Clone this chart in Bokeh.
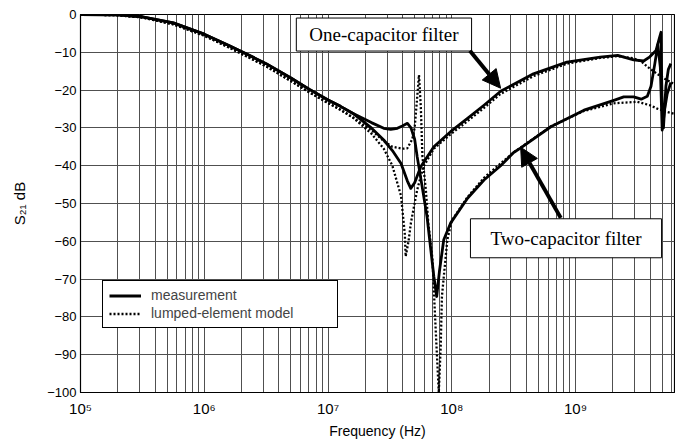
from bokeh.plotting import figure
from bokeh.models import (FixedTicker, Label, Arrow, NormalHead, Legend, LegendItem, Range1d)
from bokeh.embed import file_html
from bokeh.resources import INLINE

# ---------------- data ----------------
# One-capacitor filter, measurement
meas1_f = [1e5, 2e5, 3.16e5, 5.62e5, 1e6, 1.58e6, 2.24e6, 3.16e6, 5.01e6, 7.08e6, 1e7, 1.26e7,
           1.58e7, 2.24e7, 2.82e7, 3.31e7, 3.89e7, 4.37e7, 4.66e7, 5.01e7, 5.61e7, 7.16e7, 9.77e7,
           1.34e8, 1.82e8, 2.48e8, 4.57e8, 8.51e8, 1.58e9, 2.19e9, 2.95e9, 3.55e9, 3.98e9, 4.47e9,
           4.73e9, 4.90e9, 4.95e9, 5.01e9, 5.13e9, 5.37e9, 5.62e9, 5.89e9]
meas1_db = [0, -0.1, -0.6, -2.2, -5.2, -8.2, -10.6, -13.0, -16.8, -19.8, -22.6, -24.3,
            -26.1, -30.0, -33.2, -36.0, -39.4, -44.0, -46.0, -44.5, -40.3, -35.0, -31.0,
            -27.5, -24.0, -20.3, -15.7, -12.6, -11.3, -10.8, -12.0, -12.3, -11.2, -9.5,
            -6.5, -4.7, -15.0, -25.0, -30.0, -19.0, -14.5, -13.0]

# Two-capacitor filter, measurement
meas2_f = [1e5, 2e5, 3.16e5, 5.62e5, 1e6, 1.58e6, 2.24e6, 3.16e6, 5.01e6, 7.08e6, 1e7, 1.26e7,
           1.58e7, 2.24e7, 2.82e7, 3.21e7, 3.63e7, 3.98e7, 4.38e7, 4.68e7, 5.01e7, 5.25e7, 5.50e7,
           6.31e7, 7.16e7, 7.55e7, 7.94e7, 8.61e7, 9.77e7, 1.34e8, 1.82e8, 2.48e8, 3.16e8, 3.61e8,
           6.31e8, 1.17e9, 2.04e9, 2.45e9, 2.95e9, 3.39e9, 3.80e9, 4.07e9, 4.37e9, 4.62e9, 4.84e9,
           5.01e9, 5.25e9, 5.50e9, 5.89e9]
meas2_db = [0, -0.1, -0.6, -2.2, -5.2, -8.2, -10.6, -13.0, -16.8, -19.8, -22.6, -24.3,
            -26.1, -28.6, -30.1, -30.4, -30.1, -29.5, -28.8, -30.0, -33.0, -37.6, -41.5,
            -53.5, -69.3, -74.6, -68.0, -59.6, -55.2, -48.6, -43.8, -40.0, -36.5, -35.3,
            -29.7, -25.3, -22.7, -21.8, -21.8, -22.4, -21.6, -19.0, -13.0, -8.0, -14.0,
            -30.6, -25.0, -21.0, -18.0]

# One-capacitor filter, lumped-element model
mod1_f = [1e5, 2e5, 3.16e5, 5.62e5, 1e6, 1.58e6, 2.24e6, 3.16e6, 5.01e6, 7.08e6, 1e7, 1.26e7,
          1.58e7, 2.24e7, 2.82e7, 3.31e7, 3.89e7, 4.17e7, 4.24e7, 4.47e7, 4.68e7, 5.25e7, 5.89e7,
          7.16e7, 9.77e7, 1.34e8, 1.82e8, 2.48e8, 4.57e8, 8.51e8, 1.58e9, 2.19e9, 2.95e9, 3.39e9,
          3.80e9, 4.47e9, 5.25e9, 6.31e9]
mod1_db = [0, -0.2, -0.8, -2.6, -5.6, -8.7, -11.2, -13.7, -17.6, -20.6, -23.4, -25.2,
           -27.2, -31.5, -35.5, -40.0, -48.0, -58.0, -64.0, -60.0, -55.0, -46.4, -40.3,
           -35.5, -31.7, -28.2, -24.7, -21.0, -16.3, -13.0, -11.5, -11.0, -11.6, -12.4,
           -13.8, -15.5, -17.0, -18.5]

# Two-capacitor filter, lumped-element model
mod2_f = [1e5, 2e5, 3.16e5, 5.62e5, 1e6, 1.58e6, 2.24e6, 3.16e6, 5.01e6, 7.08e6, 1e7, 1.26e7,
          1.58e7, 2.24e7, 2.82e7, 3.31e7, 3.98e7, 4.37e7, 4.79e7, 5.01e7, 5.25e7, 5.43e7, 5.62e7,
          5.79e7, 6.17e7, 6.46e7, 6.97e7, 7.41e7, 7.85e7, 8.13e7, 8.32e7, 9.2e7, 1e8, 1.34e8,
          1.82e8, 2.48e8, 3.16e8, 6.31e8, 1.17e9, 2.04e9, 3.16e9, 3.98e9, 4.57e9, 5.50e9, 6.31e9]
mod2_db = [0, -0.2, -0.8, -2.6, -5.6, -8.7, -11.2, -13.7, -17.6, -20.6, -23.4, -25.2,
           -27.2, -30.6, -33.5, -35.0, -35.5, -35.4, -33.0, -30.0, -22.0, -16.0, -24.5,
           -37.6, -46.4, -55.2, -64.5, -83.4, -100.0, -88.0, -74.6, -59.6, -54.5, -48.3,
           -43.2, -39.4, -36.5, -29.6, -25.5, -23.5, -23.1, -24.0, -24.9, -25.8, -26.3]

decades = [1e5, 1e6, 1e7, 1e8, 1e9]
decade_labels = ["10\u2075", "10\u2076", "10\u2077", "10\u2078", "10\u2079"]
y_ticks = [-100, -90, -80, -70, -60, -50, -40, -30, -20, -10, 0]
legend_labels = ["measurement", "lumped-element model"]
note1 = "One-capacitor filter"
note2 = "Two-capacitor filter"

# ---------------- figure ----------------
p = figure(width=675, height=441, x_axis_type="log",
           x_range=Range1d(1e5, 6.3e9), y_range=Range1d(-100, 0),
           output_backend="svg", toolbar_location=None,
           min_border_left=80, min_border_right=1, min_border_top=14, min_border_bottom=48,
           background_fill_color="white", border_fill_color="white")

minors = [m * d for d in decades for m in range(2, 10)]
xt = FixedTicker(ticks=decades, minor_ticks=minors)
yt = FixedTicker(ticks=y_ticks)
p.xaxis.ticker = xt
p.xgrid.ticker = xt
p.yaxis.ticker = yt
p.ygrid.ticker = yt

grid_col = "#505050"
p.xgrid.grid_line_color = grid_col
p.xgrid.minor_grid_line_color = grid_col
p.xgrid.grid_line_width = 1
p.xgrid.minor_grid_line_width = 1
p.ygrid.grid_line_color = grid_col
p.ygrid.grid_line_width = 1

p.outline_line_color = "black"
p.outline_line_width = 1.2
p.outline_line_alpha = 1

for ax in (p.xaxis[0], p.yaxis[0]):
    ax.major_tick_out = 0
    ax.major_tick_in = 0
    ax.minor_tick_out = 0
    ax.minor_tick_in = 0
    ax.axis_line_color = "black"
    ax.major_label_text_font = "Liberation Sans"
    ax.major_label_text_color = "black"
    ax.axis_label_text_font = "Liberation Sans"
    ax.axis_label_text_font_style = "normal"
    ax.axis_label_text_color = "black"

p.xaxis.major_label_overrides = dict(zip(decades, decade_labels))
p.xaxis.major_label_text_font_size = "15px"
p.xaxis.major_label_standoff = 7
p.xaxis.axis_label = "Frequency (Hz)"
p.xaxis.axis_label_text_font_size = "14px"
p.xaxis.axis_label_standoff = 3

p.yaxis.major_label_text_font_size = "13px"
p.yaxis.major_label_standoff = 4
p.yaxis.axis_label = "S\u2082\u2081 dB"
p.yaxis.axis_label_text_font_size = "15px"
p.yaxis.axis_label_standoff = 16

# ---------------- curves ----------------
r_m1 = p.line(meas1_f, meas1_db, line_color="black", line_width=2.8, line_join="round")
r_m2 = p.line(meas2_f, meas2_db, line_color="black", line_width=2.8, line_join="round")
r_d1 = p.line(mod1_f, mod1_db, line_color="black", line_width=2.3, line_dash="2 2")
r_d2 = p.line(mod2_f, mod2_db, line_color="black", line_width=2.3, line_dash="2 2")

legend = Legend(items=[LegendItem(label=legend_labels[0], renderers=[r_m1]),
                       LegendItem(label=legend_labels[1], renderers=[r_d1])],
                location=(22, 64), margin=0, padding=6, spacing=2,
                glyph_width=32, glyph_height=15, label_height=15, label_width=180,
                label_standoff=10,
                label_text_font="Liberation Sans", label_text_font_size="14px",
                border_line_color="black", border_line_width=1, border_line_alpha=1,
                background_fill_color="white", background_fill_alpha=1)
p.add_layout(legend)

# ---------------- annotations ----------------
lab1 = Label(x=2.83e7, y=-5.3, text=note1, text_align="center", text_baseline="middle",
             text_font="Liberation Serif", text_font_size="19px", text_color="black",
             border_line_color="black", border_line_width=1,
             background_fill_color="white", background_fill_alpha=1,
             padding=dict(x=13, y=6))
lab2 = Label(x=8.37e8, y=-59.2, text=note2, text_align="center", text_baseline="middle",
             text_font="Liberation Serif", text_font_size="19px", text_color="black",
             border_line_color="black", border_line_width=1,
             background_fill_color="white", background_fill_alpha=1,
             padding=dict(x=20, y=9))
p.add_layout(lab1)
p.add_layout(lab2)

arr1 = Arrow(end=NormalHead(size=18, fill_color="black", line_color="black"),
             x_start=1.40e8, y_start=-9.6, x_end=2.48e8, y_end=-19.5,
             line_width=4, line_color="black")
arr2 = Arrow(end=NormalHead(size=18, fill_color="black", line_color="black"),
             x_start=7.59e8, y_start=-53.8, x_end=3.6e8, y_end=-35.1,
             line_width=4, line_color="black")
p.add_layout(arr1)
p.add_layout(arr2)

open("out.html", "w").write(file_html(p, INLINE))
